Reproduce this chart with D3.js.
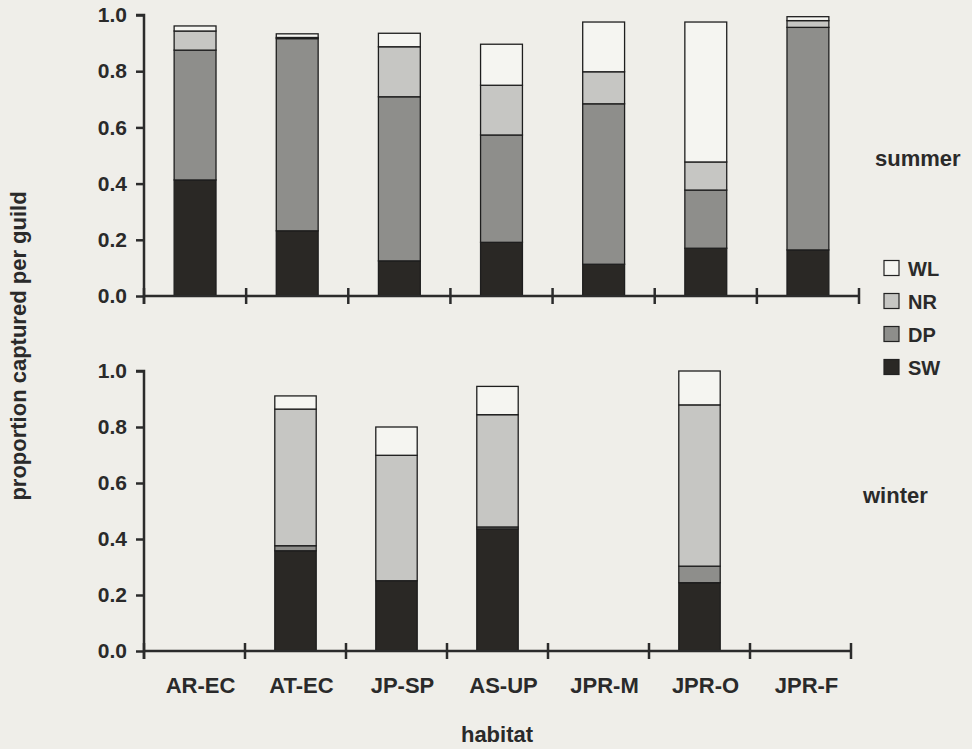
<!DOCTYPE html>
<html>
<head>
<meta charset="utf-8">
<script src="https://cdn.jsdelivr.net/npm/d3@7"></script>
<style>
  html, body { margin: 0; padding: 0; background: #efeee9; }
  svg { display: block; }
  text { font-family: "Liberation Sans", Arial, Helvetica, sans-serif; font-weight: bold; fill: #2a2a2a; }
</style>
</head>
<body>
<script>
// ---- data ----
const categories = ["AR-EC", "AT-EC", "JP-SP", "AS-UP", "JPR-M", "JPR-O", "JPR-F"];
const guilds = ["SW", "DP", "NR", "WL"];           // stacking order bottom -> top
const legendOrder = ["WL", "NR", "DP", "SW"];
const yTicks = [0, 0.2, 0.4, 0.6, 0.8, 1.0];

const summerSW = [0.413, 0.232, 0.125, 0.191, 0.113, 0.170, 0.164];
const summerDP = [0.462, 0.684, 0.584, 0.382, 0.571, 0.207, 0.792];
const summerNR = [0.068, 0.004, 0.178, 0.177, 0.114, 0.100, 0.024];
const summerWL = [0.018, 0.013, 0.048, 0.146, 0.177, 0.498, 0.014];

const winterSW = [0, 0.358, 0.251, 0.436, 0, 0.244, 0];
const winterDP = [0, 0.018, 0.000, 0.007, 0, 0.059, 0];
const winterNR = [0, 0.488, 0.448, 0.401, 0, 0.576, 0];
const winterWL = [0, 0.047, 0.101, 0.101, 0, 0.121, 0];

const colors = { SW: "#2a2825", DP: "#8e8e8b", NR: "#c6c6c3", WL: "#f5f5f1" };

function rows(sw, dp, nr, wl) {
  return categories.map((c, i) => ({ cat: c, SW: sw[i], DP: dp[i], NR: nr[i], WL: wl[i] }));
}

const W = 972, H = 749;
const svg = d3.select("body").append("svg").attr("width", W).attr("height", H);

const axisColor = "#2b2b2b";

function panel(data, x0, x1, yBottom, yTop, showLabels) {
  const x = d3.scaleBand().domain(categories).range([x0, x1]).paddingInner(0.59).paddingOuter(0.295);
  const xb = d3.scaleBand().domain(categories).range([x0, x1]).padding(0);
  const y = d3.scaleLinear().domain([0, 1]).range([yBottom, yTop]);
  const g = svg.append("g");

  const stacked = d3.stack().keys(guilds)(data);
  stacked.forEach(layer => {
    g.append("g").selectAll("rect")
      .data(layer.filter(d => (d[1] - d[0]) > 0))
      .join("rect")
      .attr("x", d => x(d.data.cat))
      .attr("width", x.bandwidth())
      .attr("y", d => y(d[1]))
      .attr("height", d => y(d[0]) - y(d[1]))
      .attr("fill", colors[layer.key])
      .attr("stroke", "#1e1e1e")
      .attr("stroke-width", 1.3);
  });

  // y axis
  const ya = d3.axisLeft(y).tickValues(yTicks).tickFormat(d3.format(".1f")).tickSize(8).tickPadding(9);
  const yg = g.append("g").attr("transform", `translate(${x0},0)`).call(ya);
  yg.select(".domain").attr("stroke", axisColor).attr("stroke-width", 2.5)
    .attr("d", `M0,${yBottom + 8}V${yTop}h-8`);
  yg.selectAll(".tick line").attr("stroke", axisColor).attr("stroke-width", 2.5);
  yg.selectAll(".tick text").style("font-size", "21px").attr("fill", "#2a2a2a")
    .style("font-family", '"Liberation Sans", Arial, sans-serif').style("font-weight", "bold");

  // x axis line
  g.append("line").attr("x1", x0).attr("x2", x1).attr("y1", yBottom).attr("y2", yBottom)
    .attr("stroke", axisColor).attr("stroke-width", 2.5);
  const bounds = categories.map(c => xb(c)).concat([x1]);
  g.selectAll(".xt").data(bounds).join("line")
    .attr("x1", d => d).attr("x2", d => d)
    .attr("y1", yBottom - 8).attr("y2", yBottom + 8)
    .attr("stroke", axisColor).attr("stroke-width", 2.5);

  if (showLabels) {
    g.selectAll(".xl").data(categories).join("text")
      .attr("x", d => xb(d) + xb.bandwidth() / 2 + 6)
      .attr("y", 693)
      .attr("text-anchor", "middle")
      .style("font-size", "22px")
      .text(d => d);
  }
}

panel(rows(summerSW, summerDP, summerNR, summerWL), 144, 859, 296, 15, false);
panel(rows(winterSW, winterDP, winterNR, winterWL), 144, 851, 651, 371, true);

// season labels
svg.append("text").attr("x", 875).attr("y", 166).style("font-size", "22px").text("summer");
svg.append("text").attr("x", 863).attr("y", 503).style("font-size", "22px").text("winter");

// legend
const lg = svg.append("g");
legendOrder.forEach((k, i) => {
  const cy = 268 + i * 33;
  lg.append("rect").attr("x", 884).attr("y", cy - 7.5).attr("width", 15).attr("height", 15)
    .attr("fill", colors[k]).attr("stroke", "#222").attr("stroke-width", 1.2);
  lg.append("text").attr("x", 908).attr("y", cy + 7.5).style("font-size", "20px").text(k);
});

// axis titles
svg.append("text").attr("transform", "translate(26,346) rotate(-90)")
  .attr("text-anchor", "middle").style("font-size", "22px").text("proportion captured per guild");
svg.append("text").attr("x", 497).attr("y", 742).attr("text-anchor", "middle")
  .style("font-size", "22px").text("habitat");
</script>
</body>
</html>
